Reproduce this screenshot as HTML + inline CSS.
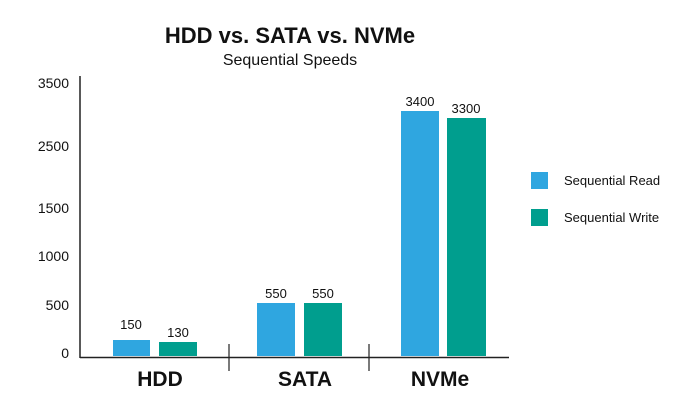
<!DOCTYPE html>
<html><head><style>
body{margin:0;background:#fff;}
svg text{font-family:"Liberation Sans",sans-serif;fill:#111;}
</style></head><body>
<svg width="699" height="405" viewBox="0 0 699 405" xmlns="http://www.w3.org/2000/svg">
<rect width="699" height="405" fill="#fff"/>
<text x="290" y="43" font-size="22" font-weight="bold" text-anchor="middle">HDD vs. SATA vs. NVMe</text>
<text x="290" y="65" font-size="16" text-anchor="middle">Sequential Speeds</text>
<g font-size="14" text-anchor="end">
<text x="69" y="88">3500</text>
<text x="69" y="151">2500</text>
<text x="69" y="213">1500</text>
<text x="69" y="261">1000</text>
<text x="69" y="310">500</text>
<text x="69" y="358">0</text>
</g>
<line x1="80" y1="76" x2="80" y2="358" stroke="#222" stroke-width="1.5"/>
<line x1="80" y1="357.5" x2="509" y2="357.5" stroke="#222" stroke-width="1.5"/>
<line x1="229" y1="344" x2="229" y2="371" stroke="#222" stroke-width="1.2"/>
<line x1="369" y1="344" x2="369" y2="371" stroke="#222" stroke-width="1.2"/>
<rect x="113" y="340" width="37" height="16" fill="#2fa6e0"/>
<rect x="159" y="342" width="38" height="14" fill="#009e8e"/>
<rect x="257" y="303" width="38" height="53" fill="#2fa6e0"/>
<rect x="304" y="303" width="38" height="53" fill="#009e8e"/>
<rect x="401" y="111" width="38" height="245" fill="#2fa6e0"/>
<rect x="447" y="118" width="39" height="238" fill="#009e8e"/>
<g font-size="13" text-anchor="middle">
<text x="131" y="329">150</text>
<text x="178" y="337">130</text>
<text x="276" y="298">550</text>
<text x="323" y="298">550</text>
<text x="420" y="106">3400</text>
<text x="466" y="113">3300</text>
</g>
<g font-size="21" font-weight="bold" text-anchor="middle">
<text x="160" y="386">HDD</text>
<text x="305" y="386">SATA</text>
<text x="440" y="386">NVMe</text>
</g>
<rect x="531" y="172" width="17" height="17" fill="#2fa6e0"/>
<rect x="531" y="209" width="17" height="17" fill="#009e8e"/>
<text x="564" y="185" font-size="13">Sequential Read</text>
<text x="564" y="222" font-size="13">Sequential Write</text>
</svg>
</body></html>
